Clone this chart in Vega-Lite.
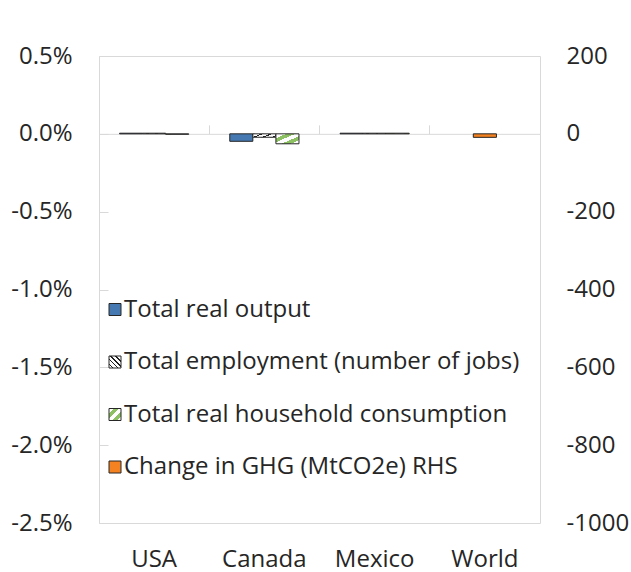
{
  "$schema": "https://vega.github.io/schema/vega-lite/v6.json",
  "width": 441,
  "height": 467,
  "autosize": {"type": "none"},
  "padding": {"left": 99, "top": 56, "right": 91, "bottom": 49},
  "background": "white",
  "config": {
    "view": {"stroke": "#d9d9d9", "strokeWidth": 1},
    "font": "Open Sans",
    "axis": {"labelFont": "Open Sans", "labelColor": "#262626", "grid": false},
    "legend": {"labelFont": "Open Sans"}
  },
  "data": {
    "values": [
      {"country": "USA", "series": "Total real output", "value": 0.00004},
      {"country": "USA", "series": "Total employment (number of jobs)", "value": 0.00004},
      {"country": "USA", "series": "Total real household consumption", "value": -0.00003},
      {"country": "Canada", "series": "Total real output", "value": -0.00048},
      {"country": "Canada", "series": "Total employment (number of jobs)", "value": -0.00022},
      {"country": "Canada", "series": "Total real household consumption", "value": -0.00064},
      {"country": "Mexico", "series": "Total real output", "value": 0.00004},
      {"country": "Mexico", "series": "Total employment (number of jobs)", "value": 0.00004},
      {"country": "Mexico", "series": "Total real household consumption", "value": 0.00004},
      {"country": "World", "series": "Change in GHG (MtCO2e) RHS", "value": -9}
    ]
  },
  "layer": [
    {
      "transform": [{"filter": "datum.series !== 'Change in GHG (MtCO2e) RHS'"}],
      "mark": {"type": "bar", "stroke": "#262626", "strokeWidth": 1},
      "encoding": {
        "x": {
          "field": "country", "type": "nominal",
          "sort": ["USA", "Canada", "Mexico", "World"],
          "scale": {"domain": ["USA", "Canada", "Mexico", "World"], "paddingInner": 0, "paddingOuter": 0},
          "axis": {"orient": "top", "offset": -77.83, "labels": false, "title": null, "domainColor": "#d9d9d9", "tickColor": "#d9d9d9", "tickSize": 9, "bandPosition": 0}
        },
        "xOffset": {
          "field": "series", "type": "nominal",
          "scale": {"domain": ["Total real output", "Total employment (number of jobs)", "Total real household consumption"], "paddingOuter": 0.89, "paddingInner": 0}
        },
        "y": {
          "field": "value", "type": "quantitative",
          "scale": {"domain": [-0.025, 0.005], "nice": false, "zero": false},
          "axis": {"orient": "left", "values": [0.005, 0, -0.005, -0.01, -0.015, -0.02, -0.025], "format": ".1%", "labelExpr": "replace(datum.label, '\u2212', '-')", "title": null, "domain": false, "tickSize": -9, "tickColor": "#d9d9d9", "labelFontSize": 24, "labelPadding": 36}
        },
        "color": {
          "field": "series", "type": "nominal",
          "scale": {
            "domain": ["Total real output", "Total employment (number of jobs)", "Total real household consumption", "Change in GHG (MtCO2e) RHS"],
            "range": [
              "#4679B2",
              {"expr": "{gradient: 'linear', x1: 0, y1: 1, x2: 1, y2: 0, stops: [{offset: 0, color: '#ffffff'}, {offset: 0.14, color: '#ffffff'}, {offset: 0.14, color: '#222222'}, {offset: 0.2, color: '#222222'}, {offset: 0.2, color: '#ffffff'}, {offset: 0.34, color: '#ffffff'}, {offset: 0.34, color: '#222222'}, {offset: 0.4, color: '#222222'}, {offset: 0.4, color: '#ffffff'}, {offset: 0.54, color: '#ffffff'}, {offset: 0.54, color: '#222222'}, {offset: 0.6, color: '#222222'}, {offset: 0.6, color: '#ffffff'}, {offset: 0.74, color: '#ffffff'}, {offset: 0.74, color: '#222222'}, {offset: 0.8, color: '#222222'}, {offset: 0.8, color: '#ffffff'}, {offset: 1, color: '#ffffff'}]}"},
              {"expr": "{gradient: 'linear', x1: 0, y1: 0, x2: 1, y2: 1, stops: [{offset: 0, color: '#ffffff'}, {offset: 0.22, color: '#ffffff'}, {offset: 0.22, color: '#8cc063'}, {offset: 0.42, color: '#8cc063'}, {offset: 0.42, color: '#ffffff'}, {offset: 0.62, color: '#ffffff'}, {offset: 0.62, color: '#8cc063'}, {offset: 0.82, color: '#8cc063'}, {offset: 0.82, color: '#ffffff'}, {offset: 1, color: '#ffffff'}]}"},
              "#F58220"
            ]
          },
          "legend": {
            "orient": "none", "legendX": 4, "legendY": 241.5, "title": null, "symbolType": "square", "symbolSize": 144, "symbolStrokeColor": "#262626", "symbolStrokeWidth": 1, "symbolOpacity": 1, "labelFontSize": 24, "labelColor": "#262626", "rowPadding": 28.5, "labelOffset": -3, "padding": 0, "direction": "vertical", "labelLimit": 600
          }
        }
      }
    },
    {
      "transform": [{"filter": "datum.series === 'Change in GHG (MtCO2e) RHS'"}],
      "mark": {"type": "bar", "width": {"band": 0.21}, "stroke": "#262626", "strokeWidth": 1},
      "encoding": {
        "x": {
          "field": "country", "type": "nominal",
          "sort": ["USA", "Canada", "Mexico", "World"],
          "scale": {"domain": ["USA", "Canada", "Mexico", "World"], "paddingInner": 0, "paddingOuter": 0},
          "axis": {"orient": "bottom", "domain": false, "ticks": false, "labelFontSize": 24, "labelPadding": 24, "labelAngle": 0, "title": null}
        },
        "y": {
          "field": "value", "type": "quantitative",
          "scale": {"domain": [-1000, 200], "nice": false, "zero": false},
          "axis": {"orient": "right", "values": [200, 0, -200, -400, -600, -800, -1000], "format": "d", "labelExpr": "replace(datum.label, '\u2212', '-')", "domain": false, "ticks": false, "labelPadding": 26, "labelFontSize": 24, "title": null}
        },
        "color": {"field": "series", "type": "nominal"}
      }
    }
  ],
  "resolve": {"scale": {"y": "independent"}, "axis": {"x": "independent"}}
}
